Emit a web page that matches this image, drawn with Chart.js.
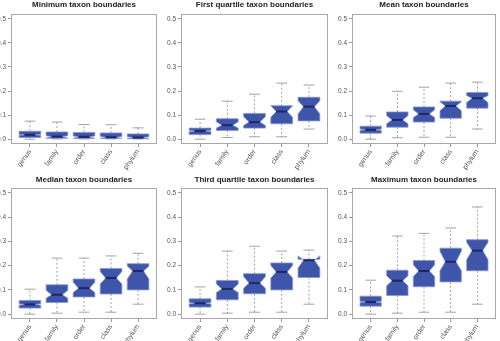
<!DOCTYPE html>
<html><head><meta charset="utf-8">
<script src="https://cdn.jsdelivr.net/npm/chart.js@4.4.1/dist/chart.umd.min.js"></script>
<style>
html,body{margin:0;padding:0;width:500px;height:341px;overflow:hidden;background:#fff;position:relative}
.p{position:absolute}
.p canvas{display:block}
</style></head><body>
<script>
const categories = ['genus', 'family', 'order', 'class', 'phylum'];
const titles = ['Minimum taxon boundaries', 'First quartile taxon boundaries', 'Mean taxon boundaries',
                'Median taxon boundaries', 'Third quartile taxon boundaries', 'Maximum taxon boundaries'];
const yTicks = [0.0, 0.1, 0.2, 0.3, 0.4, 0.5];

// one row per panel, one value per category
const whiskerLow = [
  [0.000, 0.001, 0.001, 0.001, 0.001],
  [0.000, 0.007, 0.010, 0.010, 0.042],
  [0.000, 0.006, 0.008, 0.008, 0.042],
  [0.000, 0.004, 0.008, 0.008, 0.041],
  [0.000, 0.004, 0.008, 0.008, 0.041],
  [0.000, 0.004, 0.008, 0.008, 0.041]
];
const quartile1 = [
  [0.007, 0.004, 0.003, 0.003, 0.002],
  [0.019, 0.036, 0.046, 0.064, 0.076],
  [0.025, 0.050, 0.071, 0.087, 0.129],
  [0.025, 0.048, 0.071, 0.083, 0.100],
  [0.029, 0.059, 0.084, 0.100, 0.151],
  [0.033, 0.077, 0.113, 0.133, 0.179]
];
const medians = [
  [0.018, 0.011, 0.010, 0.008, 0.007],
  [0.034, 0.058, 0.071, 0.115, 0.135],
  [0.039, 0.080, 0.105, 0.138, 0.170],
  [0.040, 0.080, 0.107, 0.149, 0.178],
  [0.045, 0.104, 0.128, 0.174, 0.222],
  [0.050, 0.138, 0.178, 0.216, 0.262]
];
const quartile3 = [
  [0.033, 0.030, 0.028, 0.026, 0.022],
  [0.046, 0.085, 0.107, 0.139, 0.174],
  [0.054, 0.113, 0.134, 0.158, 0.194],
  [0.056, 0.121, 0.145, 0.188, 0.208],
  [0.063, 0.139, 0.167, 0.211, 0.226],
  [0.074, 0.181, 0.221, 0.272, 0.307]
];
const whiskerHigh = [
  [0.075, 0.071, 0.061, 0.060, 0.047],
  [0.083, 0.158, 0.187, 0.233, 0.225],
  [0.096, 0.199, 0.216, 0.233, 0.237],
  [0.103, 0.231, 0.231, 0.240, 0.251],
  [0.112, 0.260, 0.280, 0.260, 0.264],
  [0.140, 0.322, 0.333, 0.355, 0.442]
];
const notchLow = [
  [0.016, 0.003, 0.002, 0.002, 0.001],
  [0.031, 0.046, 0.057, 0.091, 0.105],
  [0.036, 0.064, 0.090, 0.118, 0.152],
  [0.037, 0.066, 0.089, 0.124, 0.145],
  [0.042, 0.089, 0.107, 0.149, 0.190],
  [0.047, 0.117, 0.155, 0.179, 0.224]
];
const notchHigh = [
  [0.020, 0.014, 0.013, 0.011, 0.010],
  [0.037, 0.072, 0.094, 0.139, 0.160],
  [0.042, 0.098, 0.122, 0.155, 0.181],
  [0.043, 0.098, 0.131, 0.176, 0.198],
  [0.048, 0.124, 0.155, 0.201, 0.240],
  [0.053, 0.158, 0.204, 0.259, 0.296]
];

const FONT = '"Liberation Sans", Arial, Helvetica, sans-serif';
const panels = [
  {L: 11, R: 157, T: 14, B: 144, row: 0},
  {L: 181, R: 328, T: 14, B: 144, row: 0},
  {L: 352, R: 496, T: 14, B: 144, row: 0},
  {L: 11, R: 157, T: 188, B: 319, row: 1},
  {L: 181, R: 328, T: 188, B: 319, row: 1},
  {L: 352, R: 496, T: 188, B: 319, row: 1}
];

const notchPlugin = {
  id: 'notchBox',
  afterDatasetsDraw(chart, args, opts) {
    const xs = chart.scales.x, ys = chart.scales.y, ctx = chart.ctx, p = opts.panel;
    const unit = xs.getPixelForValue(2) - xs.getPixelForValue(1);
    const hw = unit * 0.4;
    const line = (x1, y1, x2, y2) => { ctx.beginPath(); ctx.moveTo(x1, y1); ctx.lineTo(x2, y2); ctx.stroke(); };
    ctx.save();
    for (let i = 0; i < categories.length; i++) {
      const cx = xs.getPixelForValue(i + 1);
      const lo = ys.getPixelForValue(whiskerLow[p][i]);
      const q1 = ys.getPixelForValue(quartile1[p][i]);
      const md = ys.getPixelForValue(medians[p][i]);
      const q3 = ys.getPixelForValue(quartile3[p][i]);
      const hi = ys.getPixelForValue(whiskerHigh[p][i]);
      const nl = ys.getPixelForValue(notchLow[p][i]);
      const nh = ys.getPixelForValue(notchHigh[p][i]);
      // whiskers
      ctx.strokeStyle = '#8c8c8c'; ctx.lineWidth = 0.8;
      ctx.setLineDash([2, 2]);
      line(cx, q3, cx, hi); line(cx, q1, cx, lo);
      ctx.setLineDash([]);
      line(cx - hw / 2, hi, cx + hw / 2, hi);
      line(cx - hw / 2, lo, cx + hw / 2, lo);
      // notched box
      const xl = cx - hw, xr = cx + hw, inset = hw * 0.5;
      ctx.beginPath();
      ctx.moveTo(xl, q1); ctx.lineTo(xl, nl); ctx.lineTo(xl + inset, md); ctx.lineTo(xl, nh); ctx.lineTo(xl, q3);
      ctx.lineTo(xr, q3); ctx.lineTo(xr, nh); ctx.lineTo(xr - inset, md); ctx.lineTo(xr, nl); ctx.lineTo(xr, q1);
      ctx.closePath();
      ctx.fillStyle = '#3f55a9'; ctx.fill();
      ctx.strokeStyle = '#8797cf'; ctx.lineWidth = 0.8; ctx.stroke();
      // median
      ctx.strokeStyle = '#1a2866'; ctx.lineWidth = 2;
      line(xl + inset, md, xr - inset, md);
    }
    const a = chart.chartArea;
    ctx.strokeStyle = '#a8a8a8'; ctx.lineWidth = 1;
    ctx.strokeRect(Math.round(a.left) + 0.5, Math.round(a.top) + 0.5, Math.round(a.width) - 1, Math.round(a.height) - 1);
    ctx.restore();
  }
};

const padL = 30, padR = 2, titleH = 14, xH = 30;
panels.forEach((p, idx) => {
  const div = document.createElement('div');
  div.className = 'p';
  div.style.left = (p.L - padL) + 'px';
  div.style.top = (p.T - titleH) + 'px';
  div.style.width = (p.R - p.L + padL + padR) + 'px';
  div.style.height = (p.B - p.T + titleH + xH) + 'px';
  const c = document.createElement('canvas');
  div.appendChild(c);
  document.body.appendChild(div);
  const gridOpts = {display: true, drawOnChartArea: false, drawTicks: true, tickLength: 3, color: '#9a9a9a'};
  new Chart(c, {
    type: 'scatter',
    data: {datasets: []},
    options: {
      responsive: true, maintainAspectRatio: false, animation: false, events: [],
      layout: {padding: {left: 0, right: padR, top: 0, bottom: 0}},
      plugins: {
        legend: {display: false}, tooltip: {enabled: false},
        title: {display: true, text: titles[idx], fullSize: false, color: '#222',
                font: {family: FONT, size: 8, weight: 'bold', lineHeight: 1.2},
                padding: p.row ? {top: 1.2, bottom: 3.2} : {top: 0, bottom: 4.4}},
        notchBox: {panel: idx}
      },
      scales: {
        x: {
          type: 'linear', min: 0.3, max: 5.7,
          afterFit(s) { s.height = xH; },
          afterBuildTicks(s) { s.ticks = categories.map((_, i) => ({value: i + 1})); },
          ticks: {autoSkip: false, minRotation: 55, maxRotation: 55, padding: 1,
                  font: {family: FONT, size: 7}, color: '#555',
                  callback: v => categories[Math.round(v) - 1]},
          grid: gridOpts, border: {display: false}
        },
        y: {
          type: 'linear', min: -0.02, max: 0.52,
          afterFit(s) { s.width = padL; },
          afterBuildTicks(s) { s.ticks = yTicks.map(v => ({value: v})); },
          ticks: {padding: 2, font: {family: FONT, size: 6.5}, color: '#555',
                  callback: v => Number(v).toFixed(1)},
          grid: gridOpts, border: {display: false}
        }
      }
    },
    plugins: [notchPlugin]
  });
});
</script>
</body></html>
